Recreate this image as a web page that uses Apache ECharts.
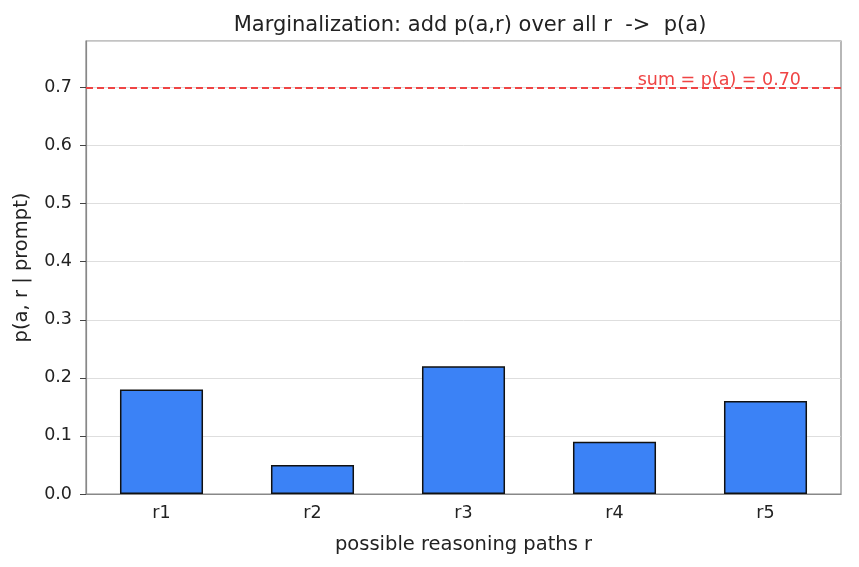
<!DOCTYPE html>
<html>

<head>
    <meta charset="utf-8">
    <title>Marginalization</title>
    <script src="https://cdn.jsdelivr.net/npm/echarts@6/dist/echarts.min.js"></script>
</head>

<body style="margin:0">
    <div id="main" style="width: 859px;height:567px;"></div>
</body>
<script type="text/javascript">
    // data
    var paths = ['r1', 'r2', 'r3', 'r4', 'r5'];
    var probs = [0.18, 0.05, 0.22, 0.09, 0.16];
    var pA = 0.70;
    var yTicks = { min: 0, max: 0.78, interval: 0.1 };

    var font = 'DejaVu Sans';
    var chart = echarts.init(document.getElementById('main'));
    chart.setOption({
        animation: false,
        backgroundColor: '#fff',
        title: {
            text: 'Marginalization: add p(a,r) over all r  ->  p(a)',
            left: 465,
            top: 10,
            textAlign: 'center',
            textStyle: { fontFamily: font, fontSize: 21, fontWeight: 'normal', color: '#222' }
        },
        grid: {
            left: 86, right: 18, top: 41, bottom: 73,
            show: true, borderColor: '#888', borderWidth: 1.2
        },
        xAxis: {
            type: 'category',
            data: paths,
            name: 'possible reasoning paths r',
            nameLocation: 'middle',
            nameGap: 41,
            nameTextStyle: { fontFamily: font, fontSize: 19.5, color: '#222' },
            axisLine: { lineStyle: { color: '#888', width: 1.2 } },
            axisTick: { alignWithLabel: true, length: 6, lineStyle: { color: '#444' } },
            axisLabel: { fontFamily: font, fontSize: 17.5, color: '#222', margin: 10 }
        },
        yAxis: {
            type: 'value',
            min: yTicks.min,
            max: yTicks.max,
            interval: yTicks.interval,
            name: 'p(a, r | prompt)',
            nameLocation: 'middle',
            nameGap: 54,
            nameTextStyle: { fontFamily: font, fontSize: 19.5, color: '#222' },
            axisLine: { show: true, lineStyle: { color: '#888', width: 1.2 } },
            axisTick: { show: true, length: 6, lineStyle: { color: '#444' } },
            axisLabel: {
                fontFamily: font, fontSize: 17.5, color: '#222', margin: 14,
                showMaxLabel: false,
                formatter: function (v) { return v.toFixed(1); }
            },
            splitLine: { lineStyle: { color: '#d6d6d6', width: 0.8 } }
        },
        series: [{
            type: 'bar',
            data: probs,
            barWidth: '55%',
            itemStyle: { color: '#3b82f6', borderColor: '#111', borderWidth: 1.5 },
            markLine: {
                symbol: 'none',
                silent: true,
                data: [{ yAxis: pA }],
                lineStyle: { color: '#ef4444', type: [7, 4], width: 2 },
                label: {
                    show: true,
                    position: 'insideEndTop',
                    distance: [40, -2],
                    formatter: 'sum = p(a) = ' + pA.toFixed(2),
                    fontFamily: font, fontSize: 17.5, color: '#ef4444'
                }
            }
        }]
    });
</script>

</html>
